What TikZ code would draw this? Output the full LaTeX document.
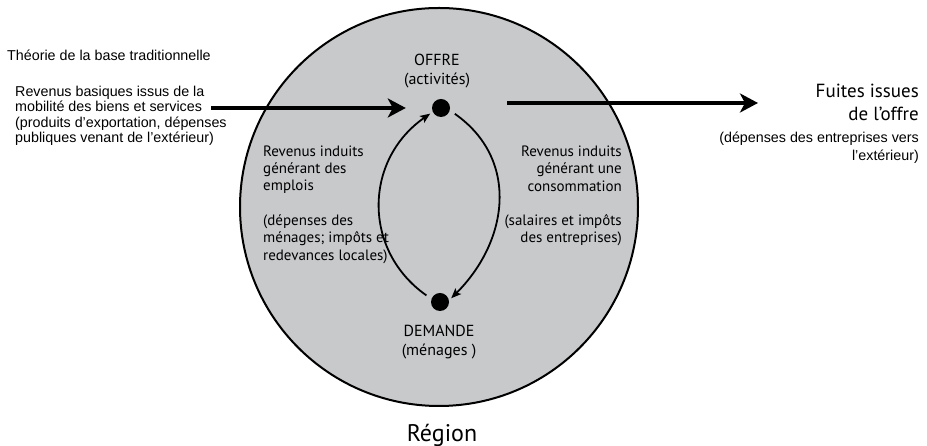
\documentclass[tikz,border=0pt]{standalone}
\usepackage{fontspec}
\setmainfont{Liberation Sans}
\newfontfamily\myr{PT Sans}
\usetikzlibrary{arrows.meta}
\definecolor{gris}{RGB}{200,201,203}
\tikzset{
  point/.style={circle,fill=black,inner sep=0pt,minimum size=18pt},
  gros/.style={line width=4pt,-{Stealth[length=18pt,width=19pt,inset=5pt]}},
  fin/.style={line width=1.8pt,-{Stealth[length=10pt,width=8pt,inset=2pt]}},
  ext/.style={font=\fontsize{14.3}{15.2}\selectfont,inner sep=0pt},
  int/.style={font=\myr\fontsize{15}{17.3}\selectfont,inner sep=0pt},
}

\begin{document}
\begin{tikzpicture}[x=1pt,y=1pt]
\useasboundingbox (0,0) rectangle (927,446);
\node[circle,draw,line width=2pt,fill=gris,minimum size=398pt,inner sep=0pt] (region) at (439,239) {};
\node[font=\myr\fontsize{24}{28}\selectfont,inner sep=0pt] (nom) at (442,11) {Région};

\node[point] (offre)   at (441,338) {};
\node[point] (demande) at (440,144) {};
\node[int,align=center,font=\myr\fontsize{16}{19}\selectfont] (offrelbl)   at (437,374.5) {OFFRE\\(activités)};
\node[int,align=center,font=\myr\fontsize{16}{19}\selectfont] (demandelbl) at (439,103.5) {DEMANDE\\(ménages )};

\node[int,align=left,anchor=west] (emploi) at (263,241.5)
  {Revenus induits\\générant des\\emplois\\[17.3pt](dépenses des\\ménages; impôts et\\redevances locales)};
\node[int,align=right,anchor=east] (conso) at (622,250)
  {Revenus induits\\générant une\\consommation\\[17.3pt](salaires et impôts\\des entreprises)};

\node[ext,anchor=west] (titre) at (7,391) {Théorie de la base traditionnelle};
\node[ext,align=left,anchor=west] (revbase) at (15,330.2)
  {Revenus basiques issus de la\\mobilité des biens et services\\(produits d’exportation, dépenses\\publiques venant de l’extérieur)};
\node[int,align=right,anchor=east,font=\myr\fontsize{19}{23.5}\selectfont] (fuitelbl) at (919,343.5) {Fuites issues\\de l’offre};
\node[ext,align=right,anchor=east,font=\fontsize{14.3}{18}\selectfont] (depext) at (919,298.5)
  {(dépenses des entreprises vers\\l’extérieur)};

% flux entrant et sortant
\coordinate (debut) at (211,338);
\coordinate (fuite) at (758,343);
\draw[gros] (debut) -- ([xshift=-26pt]offre.west);
\draw[gros] ([xshift=57pt,yshift=5pt]offre.east) -- (fuite);

% boucle offre / demande
\draw[fin,shorten <=6pt,shorten >=3pt] (demande.160) to[out=145,in=215,looseness=1.15] (offre.205);
\draw[fin,shorten <=6pt,shorten >=3pt] (offre.-15) to[out=-35,in=45,looseness=1.14] (demande.10);
\end{tikzpicture}
\end{document}
